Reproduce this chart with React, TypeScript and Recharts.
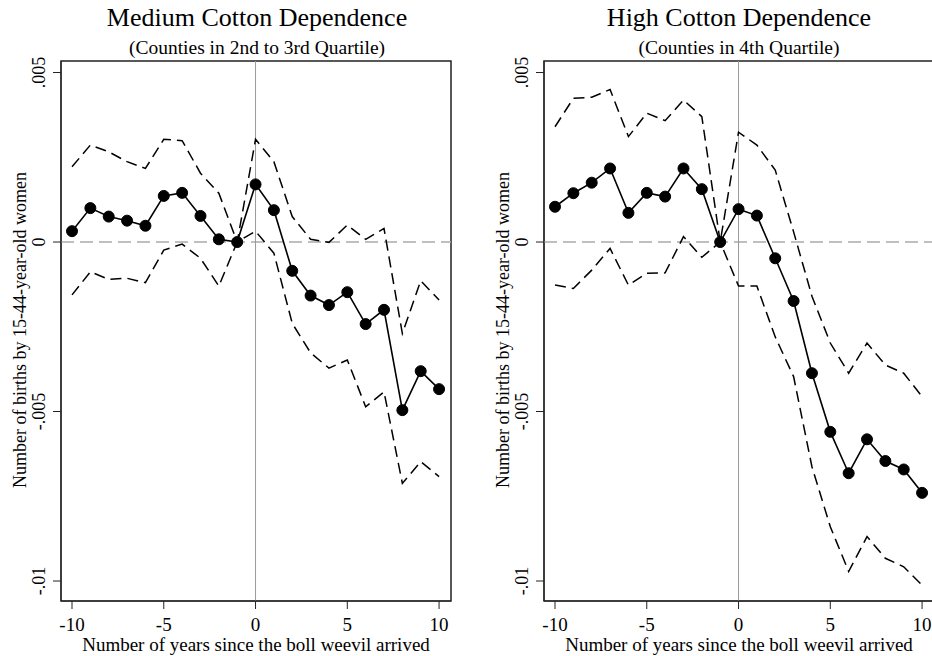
import React from "react";
import { LineChart, Line, XAxis, YAxis, ReferenceLine, ReferenceArea } from "recharts";

const years = [-10, -9, -8, -7, -6, -5, -4, -3, -2, -1, 0, 1, 2, 3, 4, 5, 6, 7, 8, 9, 10];

const medEst = [0.00032, 0.001, 0.00075, 0.00063, 0.00048, 0.00136, 0.00145, 0.00077, 0.00008, 0, 0.0017, 0.00094, -0.00085, -0.00158, -0.00186, -0.00148, -0.00242, -0.002, -0.00496, -0.00381, -0.00434];
const medUpper = [0.00222, 0.00286, 0.00266, 0.00237, 0.00217, 0.00303, 0.00299, 0.00203, 0.00144, 0, 0.00303, 0.00237, 0.00075, 0.00008, -0.00001, 0.0005, 0.00008, 0.0004, -0.0027, -0.00114, -0.00171];
const medLower = [-0.00156, -0.00088, -0.0011, -0.00107, -0.0012, -0.00024, -0.00006, -0.00048, -0.0013, 0, 0.00032, -0.00033, -0.0024, -0.00327, -0.00372, -0.00348, -0.00486, -0.00442, -0.00712, -0.00648, -0.00692];

const highEst = [0.00104, 0.00144, 0.00175, 0.00217, 0.00086, 0.00145, 0.00134, 0.00217, 0.00156, 0, 0.00097, 0.00078, -0.00048, -0.00174, -0.00387, -0.0056, -0.00682, -0.00582, -0.00646, -0.00671, -0.0074];
const highUpper = [0.0034, 0.00424, 0.00427, 0.0045, 0.00311, 0.0038, 0.00358, 0.00419, 0.0037, 0, 0.00324, 0.00286, 0.00212, 0.0003, -0.0016, -0.00298, -0.00387, -0.00298, -0.00363, -0.00387, -0.00456];
const highLower = [-0.00127, -0.00137, -0.00083, -0.00019, -0.00127, -0.00092, -0.00091, 0.00016, -0.00045, 0, -0.0013, -0.0013, -0.0028, -0.00397, -0.00663, -0.0084, -0.00972, -0.00869, -0.00933, -0.00958, -0.01012];

const xTicks = [-10, -5, 0, 5, 10];
const yTicks = [0.005, 0, -0.005, -0.01];
const yTickLabels = [".005", "0", "-.005", "-.01"];

const titles = ["Medium Cotton Dependence", "High Cotton Dependence"];
const subtitles = ["(Counties in 2nd to 3rd Quartile)", "(Counties in 4th Quartile)"];
const yLabel = "Number of births by 15-44-year-old women";
const xLabel = "Number of years since the boll weevil arrived";

const X_DOMAIN: [number, number] = [-10.6, 10.65];
const Y_DOMAIN: [number, number] = [-0.01059, 0.00534];
const FONT = "'Liberation Serif', 'Times New Roman', serif";

const buildRows = (est: number[], lo: number[], hi: number[]) =>
  years.map((x, i) => ({ x, est: est[i], lo: lo[i], hi: hi[i] }));

const YTick = (props: any) => {
  const { x, y, payload } = props;
  const idx = yTicks.indexOf(payload.value);
  const label = idx >= 0 ? yTickLabels[idx] : String(payload.value);
  return (
    <text
      x={x}
      y={y}
      transform={`rotate(-90 ${x} ${y})`}
      textAnchor="middle"
      dominantBaseline="central"
      fontFamily={FONT}
      fontSize={18}
      fill="#000"
    >
      {label}
    </text>
  );
};

const XTick = (props: any) => {
  const { x, y, payload } = props;
  return (
    <text x={x} y={y} textAnchor="middle" dominantBaseline="central" fontFamily={FONT} fontSize={19} fill="#000">
      {payload.value}
    </text>
  );
};

type PanelProps = {
  left: number;
  width: number;
  marginLeft: number;
  marginRight: number;
  rows: any[];
  title: string;
  subtitle: string;
  titleX: number;
  yLabelX: number;
};

const Panel = ({ left, width, marginLeft, marginRight, rows, title, subtitle, titleX, yLabelX }: PanelProps) => {
  const plotLeft = marginLeft + 40;
  const plotCenter = (plotLeft + (width - marginRight)) / 2;
  return (
    <div style={{ position: "absolute", left, top: 0, width, height: 656 }}>
      <div style={{ position: "absolute", left: titleX - 250, width: 500, top: 3, textAlign: "center", fontFamily: FONT, fontSize: 26, lineHeight: "30px", color: "#000" }}>
        {title}
      </div>
      <div style={{ position: "absolute", left: titleX - 250, width: 500, top: 37, textAlign: "center", fontFamily: FONT, fontSize: 19.5, lineHeight: "21px", color: "#000" }}>
        {subtitle}
      </div>
      <div
        style={{
          position: "absolute",
          left: yLabelX - 250,
          top: 330 - 10,
          width: 500,
          height: 20,
          lineHeight: "20px",
          textAlign: "center",
          transform: "rotate(-90deg)",
          fontFamily: FONT,
          fontSize: 18,
          color: "#000",
        }}
      >
        {yLabel}
      </div>
      <div style={{ position: "absolute", left: plotCenter - 250, width: 500, top: 635, textAlign: "center", fontFamily: FONT, fontSize: 19, lineHeight: "19px", color: "#000" }}>
        {xLabel}
      </div>
      <div style={{ position: "absolute", left: 0, top: 0 }}>
        <LineChart width={width} height={656} data={rows} margin={{ top: 61, right: marginRight, bottom: 25, left: marginLeft }}>
          <XAxis
            type="number"
            dataKey="x"
            domain={X_DOMAIN}
            ticks={xTicks}
            allowDataOverflow
            height={30}
            tickSize={8}
            tickMargin={15}
            stroke="#222"
            tick={<XTick />}
          />
          <YAxis
            type="number"
            domain={Y_DOMAIN}
            ticks={yTicks}
            allowDataOverflow
            width={40}
            tickSize={8}
            tickMargin={14}
            stroke="#222"
            tick={<YTick />}
          />
          <ReferenceArea x1={X_DOMAIN[0]} x2={X_DOMAIN[1]} y1={Y_DOMAIN[0]} y2={Y_DOMAIN[1]} fill="none" stroke="#222" strokeWidth={1.5} ifOverflow="visible" />
          <ReferenceLine y={0} stroke="#aaa" strokeWidth={1.5} strokeDasharray="13 6" />
          <ReferenceLine x={0} stroke="#999" strokeWidth={1} />
          <Line type="linear" dataKey="hi" stroke="#000" strokeWidth={1.5} strokeDasharray="11 6" dot={false} isAnimationActive={false} />
          <Line type="linear" dataKey="lo" stroke="#000" strokeWidth={1.5} strokeDasharray="11 6" dot={false} isAnimationActive={false} />
          <Line
            type="linear"
            dataKey="est"
            stroke="#000"
            strokeWidth={1.6}
            dot={{ r: 5.5, fill: "#000", stroke: "#000", strokeWidth: 1 }}
            isAnimationActive={false}
          />
        </LineChart>
      </div>
    </div>
  );
};

export default function App() {
  const medRows = buildRows(medEst, medLower, medUpper);
  const highRows = buildRows(highEst, highLower, highUpper);
  return (
    <div style={{ position: "absolute", left: 0, top: 0, width: 932, height: 656, overflow: "hidden", background: "#fff" }}>
      <Panel left={0} width={466} marginLeft={21} marginRight={15} rows={medRows} title={titles[0]} subtitle={subtitles[0]} titleX={257} yLabelX={20} />
      <Panel left={466} width={470} marginLeft={38} marginRight={2} rows={highRows} title={titles[1]} subtitle={subtitles[1]} titleX={273} yLabelX={37} />
    </div>
  );
}
